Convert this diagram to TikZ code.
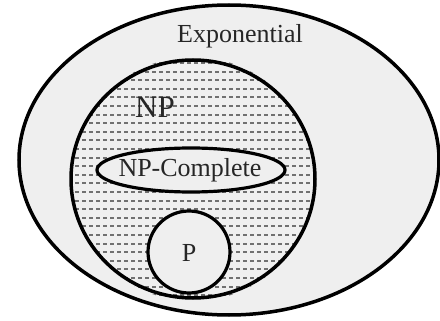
\documentclass[tikz,border=0pt]{standalone}
\usepackage{fontspec}
\setmainfont{Liberation Serif}
\usetikzlibrary{positioning}
\definecolor{Shade}{HTML}{EFEFEF}
\definecolor{Dots}{HTML}{707070}
\tikzset{
  setline/.style={line width=3.5pt,draw=black},
  setlabel/.style={font=\fontsize{26}{26}\selectfont,text=black!85,inner sep=0pt},
}

\begin{document}
\begin{tikzpicture}[x=1pt,y=-1pt]
\useasboundingbox (0,0) rectangle (440,321);
\fill[white] (0,0) rectangle (440,321);
% outer set
\draw[setline,fill=Shade] (229,160) ellipse [x radius=210,y radius=155];
% NP, dotted rows
\begin{scope}
  \clip (193,179) circle [radius=122];
  \foreach \y in {63,71.6,...,300} {
    \draw[Dots,line width=1.9pt,dash pattern=on 4pt off 3pt] (68,\y) -- (318,\y);
  }
\end{scope}
\draw[setline] (193,179) ellipse [x radius=122,y radius=119];
\draw[setline,line width=3.2pt,fill=Shade] (191,170) ellipse [x radius=94,y radius=22];
\draw[setline,line width=3.2pt,fill=Shade] (189,252) circle [radius=41];
% labels
\node[setlabel] (expo) at (240,36) {Exponential};
\node[setlabel,font=\fontsize{31}{31}\selectfont] (np) at (155,107) {NP};
\node[setlabel] (npc) at (190,170) {NP-Complete};
\node[setlabel] (p) at (189,253) {P};
\end{tikzpicture}
\end{document}
